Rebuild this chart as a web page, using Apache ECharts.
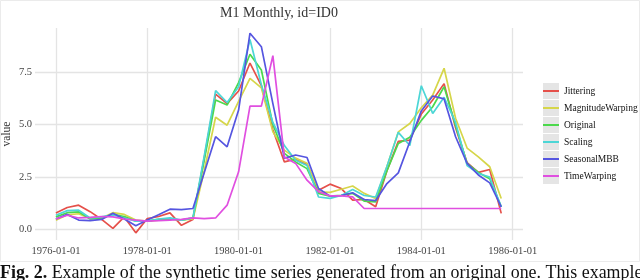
<!DOCTYPE html>
<html><head><meta charset="utf-8">
<script src="https://cdn.jsdelivr.net/npm/echarts@6/dist/echarts.min.js"></script>
<style>html,body{margin:0;padding:0;background:#fff}#c{width:640px;height:280px}</style>
</head><body><div id="c"></div>
<script>
const dates = [
 '1976-01-01','1976-04-01','1976-07-01','1976-10-01','1977-01-01','1977-04-01','1977-07-01','1977-10-01',
 '1978-01-01','1978-04-01','1978-07-01','1978-10-01','1979-01-01','1979-04-01','1979-07-01','1979-10-01',
 '1980-01-01','1980-04-01','1980-07-01','1980-10-01','1981-01-01','1981-04-01','1981-07-01','1981-10-01',
 '1982-01-01','1982-04-01','1982-07-01','1982-10-01','1983-01-01','1983-04-01','1983-07-01','1983-10-01',
 '1984-01-01','1984-04-01','1984-07-01','1984-10-01','1985-01-01','1985-04-01','1985-07-01','1985-10-01'];
const seriesNames = ['Jittering','MagnitudeWarping','Original','Scaling','SeasonalMBB','TimeWarping'];
const jittering = [0.79,1.05,1.16,0.85,0.48,0.05,0.6,-0.16,0.52,0.62,0.79,0.2,0.48,3.4,6.45,6.0,6.6,7.93,6.85,4.75,3.22,3.35,3.1,1.87,2.16,1.95,1.4,1.43,1.08,2.8,4.2,4.26,5.5,6.17,6.95,4.85,3.18,2.72,2.86,0.77];
const magnitudeWarping = [0.44,0.7,0.75,0.52,0.55,0.8,0.72,0.45,0.4,0.45,0.5,0.45,0.5,2.8,5.35,4.97,6.1,7.2,6.75,4.65,3.78,3.4,3.16,1.79,1.77,1.92,2.07,1.72,1.48,3.0,4.65,5.05,5.8,6.4,7.68,5.3,3.88,3.46,2.99,1.48];
const original = [0.6,0.8,0.84,0.5,0.55,0.72,0.62,0.4,0.4,0.48,0.5,0.45,0.55,3.3,6.17,5.93,7.0,8.35,7.6,5.0,3.63,3.22,2.9,1.72,1.59,1.63,1.72,1.35,1.32,2.8,4.1,4.4,5.2,5.85,6.8,4.95,3.15,2.72,2.42,1.08];
const scaling = [0.68,0.9,0.92,0.55,0.6,0.7,0.55,0.4,0.4,0.5,0.55,0.45,0.55,3.5,6.62,6.05,6.8,9.05,6.9,5.1,4.0,3.3,3.05,1.55,1.48,1.62,1.91,1.62,1.55,3.0,4.63,4.0,6.85,5.53,6.3,5.1,3.05,2.67,2.5,1.08];
const seasonalMBB = [0.5,0.72,0.45,0.42,0.48,0.77,0.5,0.18,0.45,0.7,0.97,0.95,1.0,2.7,4.42,3.94,5.69,9.35,8.71,6.0,3.4,3.55,3.43,1.95,1.59,1.62,1.75,1.43,1.38,2.19,2.7,4.18,5.65,6.36,6.22,4.42,3.15,2.6,2.22,1.08];
const timeWarping = [0.5,0.68,0.55,0.58,0.62,0.6,0.5,0.45,0.4,0.42,0.45,0.48,0.55,0.52,0.55,1.16,2.75,5.88,5.88,8.28,3.45,3.15,2.35,1.8,1.6,1.6,1.55,1.0,1.0,1.0,1.0,1.0,1.0,1.0,1.0,1.0,1.0,1.0,1.0,1.0];
const xTicks = ['1976-01-01','1978-01-01','1980-01-01','1982-01-01','1984-01-01','1986-01-01'];
const yTicks = [0, 2.5, 5, 7.5];
const colors = ['#E5504A','#D6D64A','#4CD94C','#4CD6D6','#5555E0','#E04FE0'];
const allValues = [jittering, magnitudeWarping, original, scaling, seasonalMBB, timeWarping];

const FONT = '"Liberation Serif", "Times New Roman", serif';
const chart = echarts.init(document.getElementById('c'), null, {renderer:'canvas'});
const toMs = s => Date.parse(s + 'T00:00:00Z');
function fmtDate(v){const d=new Date(v);const p=n=>String(n).padStart(2,'0');return d.getUTCFullYear()+'-'+p(d.getUTCMonth()+1)+'-'+p(d.getUTCDate());}
const xTickMs = xTicks.map(toMs);

const series = seriesNames.map((name,k)=>({
  name, type:'line', showSymbol:false, symbol:'none',
  data: dates.map((d,i)=>[toMs(d), allValues[k][i]]),
  lineStyle:{width:1.7, color:colors[k]}, itemStyle:{color:colors[k]},
  emphasis:{disabled:true}, animation:false
}));

const legendBase = {
  orient:'vertical', left:543, top:83, padding:0, itemGap:1,
  data: seriesNames, selectedMode:false
};

chart.setOption({
  animation:false,
  grid:{left:35, right:117, top:28, bottom:40, containLabel:false, outerBoundsMode:'none'},
  xAxis:{
    type:'value', min:toMs('1975-07-18'), max:toMs('1986-03-24'),
    axisLine:{show:false}, axisTick:{show:false, customValues:xTickMs},
    axisLabel:{customValues:xTickMs, formatter:fmtDate, color:'#444', fontFamily:FONT, fontSize:10.5, margin:6, hideOverlap:false},
    splitLine:{show:true, lineStyle:{color:'#e4e4e4', width:1.3}}
  },
  yAxis:{
    type:'value', min:-0.5, max:9.6,
    name:'value', nameLocation:'middle', nameRotate:90, nameGap:22, nameMoveOverlap:false,
    nameTextStyle:{color:'#333', fontFamily:FONT, fontSize:11.5},
    axisLine:{show:false}, axisTick:{show:false, customValues:yTicks},
    axisLabel:{customValues:yTicks, formatter:v=>Number(v).toFixed(1), color:'#444', fontFamily:FONT, fontSize:10.5, margin:3},
    splitLine:{show:true, lineStyle:{color:'#e4e4e4', width:1.3}}
  },
  legend:[
    Object.assign({}, legendBase, {icon:'rect', itemWidth:16, itemHeight:16,
      itemStyle:{color:'#e5e5e5', borderWidth:0},
      textStyle:{color:'rgba(0,0,0,0)', fontFamily:FONT, fontSize:9.5, lineHeight:16}}),
    Object.assign({}, legendBase, {icon:'rect', itemWidth:16, itemHeight:2,
      textStyle:{color:'#111', fontFamily:FONT, fontSize:9.5, lineHeight:16}})
  ],
  graphic:[
    {type:'rect', silent:true, z:-10, shape:{x:0.5,y:0.5,width:639,height:261}, style:{fill:'none', stroke:'#ebebeb', lineWidth:1}},
    {type:'text', silent:true, x:279, y:13, style:{text:'M1 Monthly, id=ID0', align:'center', verticalAlign:'middle', fontFamily:FONT, fontSize:14, fill:'#333'}},
    {type:'text', silent:true, x:0, y:264, style:{
      text:'{b|Fig. 2.} Example of the synthetic time series generated from an original one. This example',
      align:'left', verticalAlign:'top', fontFamily:FONT, fontSize:17.9, fill:'#111',
      rich:{b:{fontFamily:FONT, fontWeight:'bold', fontSize:17.9, fill:'#111'}}}}
  ],
  series
});
</script></body></html>
